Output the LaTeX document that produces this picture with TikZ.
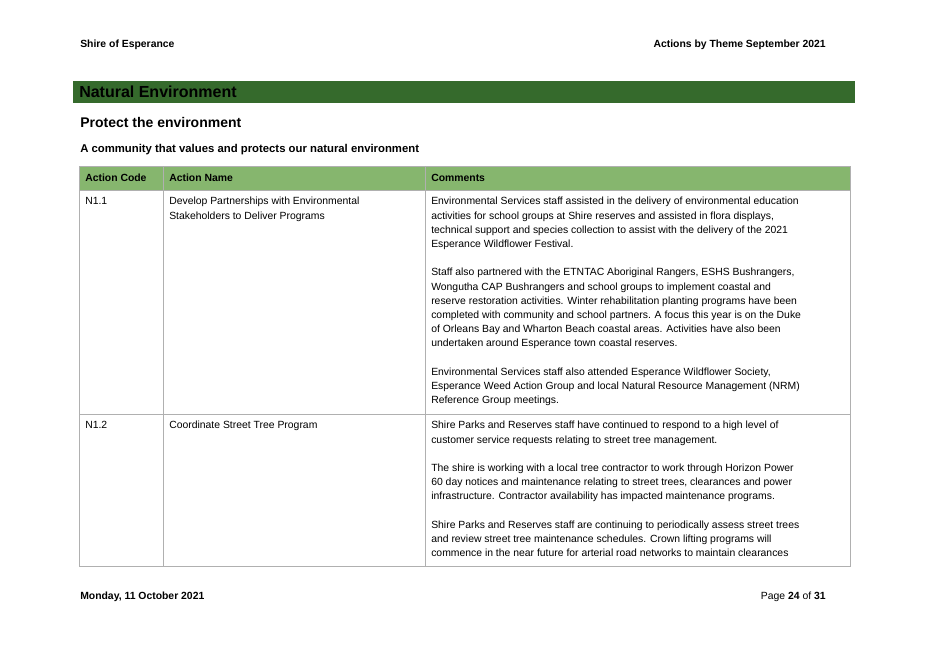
\documentclass[tikz,border=0pt]{standalone}
\usepackage{fontspec}
\setmainfont{Liberation Sans}
\definecolor{bargreen}{HTML}{356A2C}
\definecolor{headgreen}{HTML}{86B66E}
\definecolor{rulegrey}{HTML}{B0B0B0}
\tikzset{
  celltext/.style={anchor=north west,inner sep=0pt,align=left,font=\fontsize{7.8}{10.65}\selectfont},
  headtext/.style={anchor=west,inner sep=0pt,font=\fontsize{7.8}{9}\selectfont\bfseries},
  pagetext/.style={inner sep=0pt,font=\fontsize{7.8}{9}\selectfont\bfseries}
}
\begin{document}
\begin{tikzpicture}[x=0.75pt,y=-0.75pt]
\useasboundingbox (0,0) rectangle (928,656);
% page header
\node[pagetext,anchor=west] (shire) at (80,45) {Shire of Esperance};
\node[pagetext,anchor=east] (theme) at (826,45) {Actions by Theme September 2021};
% theme bar
\fill[bargreen] (73,81) rectangle (855,103);
\node[anchor=west,inner sep=0pt,font=\fontsize{12}{14}\selectfont\bfseries] (natenv) at (79,92) {Natural Environment};
\node[anchor=west,inner sep=0pt,font=\fontsize{10.5}{12}\selectfont\bfseries] (protect) at (80,122) {Protect the environment};
\node[anchor=west,inner sep=0pt,font=\fontsize{8.5}{10}\selectfont\bfseries] (community) at (80,150) {A community that values and protects our natural environment};
% table
\fill[headgreen] (79,166) rectangle (850,190);
\draw[rulegrey,line width=0.6pt] (79,166) rectangle (850,566);
\draw[rulegrey,line width=0.6pt] (79,190) -- (850,190);
\draw[rulegrey,line width=0.6pt] (79,414) -- (850,414);
\foreach \cx in {163,425} {
  \draw[rulegrey,line width=0.6pt] (\cx,166) -- (\cx,566);
}
\node[headtext] (hcode) at (85,178) {Action Code};
\node[headtext] (hname) at (169,178) {Action Name};
\node[headtext] (hcomm) at (431,178) {Comments};
% row N1.1
\node[celltext] (code1) at (85,197) {N1.1};
\node[celltext] (name1) at (169,197) {Develop Partnerships with Environmental\\Stakeholders to Deliver Programs};
\node[celltext] (comm1) at (431,197) {Environmental Services staff assisted in the delivery of environmental education\\
activities for school groups at Shire reserves and assisted in flora displays,\\
technical support and species collection to assist with the delivery of the 2021\\
Esperance Wildflower Festival.\\[10.65pt]
Staff also partnered with the ETNTAC Aboriginal Rangers, ESHS Bushrangers,\\
Wongutha CAP Bushrangers and school groups to implement coastal and\\
reserve restoration activities. Winter rehabilitation planting programs have been\\
completed with community and school partners. A focus this year is on the Duke\\
of Orleans Bay and Wharton Beach coastal areas. Activities have also been\\
undertaken around Esperance town coastal reserves.\\[10.65pt]
Environmental Services staff also attended Esperance Wildflower Society,\\
Esperance Weed Action Group and local Natural Resource Management (NRM)\\
Reference Group meetings.};
% row N1.2
\node[celltext] (code2) at (85,421) {N1.2};
\node[celltext] (name2) at (169,421) {Coordinate Street Tree Program};
\node[celltext] (comm2) at (431,421) {Shire Parks and Reserves staff have continued to respond to a high level of\\
customer service requests relating to street tree management.\\[10.65pt]
The shire is working with a local tree contractor to work through Horizon Power\\
60 day notices and maintenance relating to street trees, clearances and power\\
infrastructure. Contractor availability has impacted maintenance programs.\\[10.65pt]
Shire Parks and Reserves staff are continuing to periodically assess street trees\\
and review street tree maintenance schedules. Crown lifting programs will\\
commence in the near future for arterial road networks to maintain clearances};
% page footer
\node[pagetext,anchor=west] (date) at (80,597) {Monday, 11 October 2021};
\node[anchor=east,inner sep=0pt,font=\fontsize{7.8}{9}\selectfont] (page) at (826,597) {Page \textbf{24} of \textbf{31}};
\end{tikzpicture}
\end{document}
